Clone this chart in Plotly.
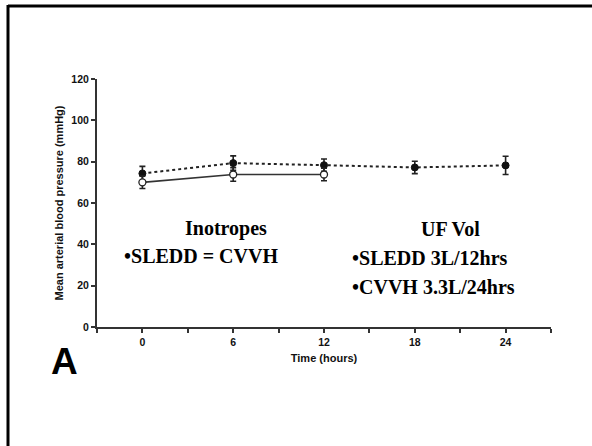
import plotly.graph_objects as go

# Data
time_cvvh = [0, 6, 12, 18, 24]
map_cvvh = [74.3, 79.3, 78.3, 77.2, 78.2]
err_cvvh = [3.4, 3.5, 3.0, 3.0, 4.4]

time_sledd = [0, 6, 12]
map_sledd = [70.0, 73.8, 73.8]
err_sledd = [3.0, 3.3, 3.0]

x_tickvals = [-3, 0, 3, 6, 9, 12, 15, 18, 21, 24, 27]
x_ticktext = ["", "0", "", "6", "", "12", "", "18", "", "24", ""]
y_tickvals = [0, 20, 40, 60, 80, 100, 120]

W, H = 592, 446
L, R, T, B = 97, 41, 79, 119
pw, ph = W - L - R, H - T - B


def px(xp):
    return (xp - L) / pw


def py(yp):
    return (H - B - yp) / ph


axcol = "#333333"
fig = go.Figure()

fig.add_trace(go.Scatter(
    x=time_cvvh, y=map_cvvh, mode="lines+markers",
    line=dict(color="#222222", width=2, dash="dot"),
    marker=dict(symbol="circle", size=7, color="#111111", line=dict(color="#111111", width=1)),
    error_y=dict(type="data", array=err_cvvh, color="#222222", thickness=1.6, width=3),
    showlegend=False,
))
fig.add_trace(go.Scatter(
    x=time_sledd, y=map_sledd, mode="lines+markers",
    line=dict(color="#333333", width=1.6),
    marker=dict(symbol="circle", size=7, color="white", line=dict(color="#222222", width=1.3)),
    error_y=dict(type="data", array=err_sledd, color="#222222", thickness=1.6, width=3),
    showlegend=False,
))

fig.update_xaxes(
    range=[-3, 27], tickvals=x_tickvals, ticktext=x_ticktext,
    showgrid=False, zeroline=False, showline=True, linecolor=axcol, linewidth=2,
    ticks="outside", ticklen=4, tickwidth=1.5, tickcolor=axcol,
    tickfont=dict(family="Liberation Sans", size=10.5, color="#111111", weight="bold"),
    title=dict(text="<b>Time (hours)</b>", standoff=8,
               font=dict(family="Liberation Sans", size=11, color="#111111")),
)
fig.update_yaxes(
    range=[0, 120], tickvals=y_tickvals,
    showgrid=False, zeroline=False, showline=True, linecolor=axcol, linewidth=2,
    ticks="outside", ticklen=4, tickwidth=1.5, tickcolor=axcol,
    tickfont=dict(family="Liberation Sans", size=10.5, color="#111111", weight="bold"),
    title=dict(text="<b>Mean arterial blood pressure (mmHg)</b>", standoff=6,
               font=dict(family="Liberation Sans", size=11, color="#111111")),
)

serif = dict(family="Liberation Serif", size=20, color="black")
annos = [
    dict(text="<b>Inotropes</b>", x=px(226), y=py(228), xanchor="center"),
    dict(text="<b>•SLEDD = CVVH</b>", x=px(122), y=py(256), xanchor="left"),
    dict(text="<b>UF Vol</b>", x=px(450), y=py(229), xanchor="center"),
    dict(text="<b>•SLEDD 3L/12hrs</b>", x=px(350), y=py(258), xanchor="left"),
    dict(text="<b>•CVVH 3.3L/24hrs</b>", x=px(350), y=py(287), xanchor="left"),
]
for a in annos:
    fig.add_annotation(xref="paper", yref="paper", yanchor="middle", showarrow=False,
                       font=serif, **a)

fig.add_annotation(xref="paper", yref="paper", x=px(64), y=py(361), text="<b>A</b>",
                   showarrow=False, xanchor="center", yanchor="middle",
                   font=dict(family="Liberation Sans", size=37, color="black"))

# frame lines (top and left)
fig.add_shape(type="line", xref="paper", yref="paper", x0=px(8), x1=px(600), y0=py(6), y1=py(6),
              line=dict(color="black", width=3))
fig.add_shape(type="line", xref="paper", yref="paper", x0=px(8), x1=px(8), y0=py(5), y1=py(450),
              line=dict(color="black", width=3))

fig.update_layout(
    width=W, height=H, margin=dict(l=L, r=R, t=T, b=B),
    paper_bgcolor="white", plot_bgcolor="white",
)

fig.write_html(
    "out.html",
    config={"displayModeBar": False},
    post_script="document.body.style.margin='0';document.body.style.overflow='hidden';",
)
